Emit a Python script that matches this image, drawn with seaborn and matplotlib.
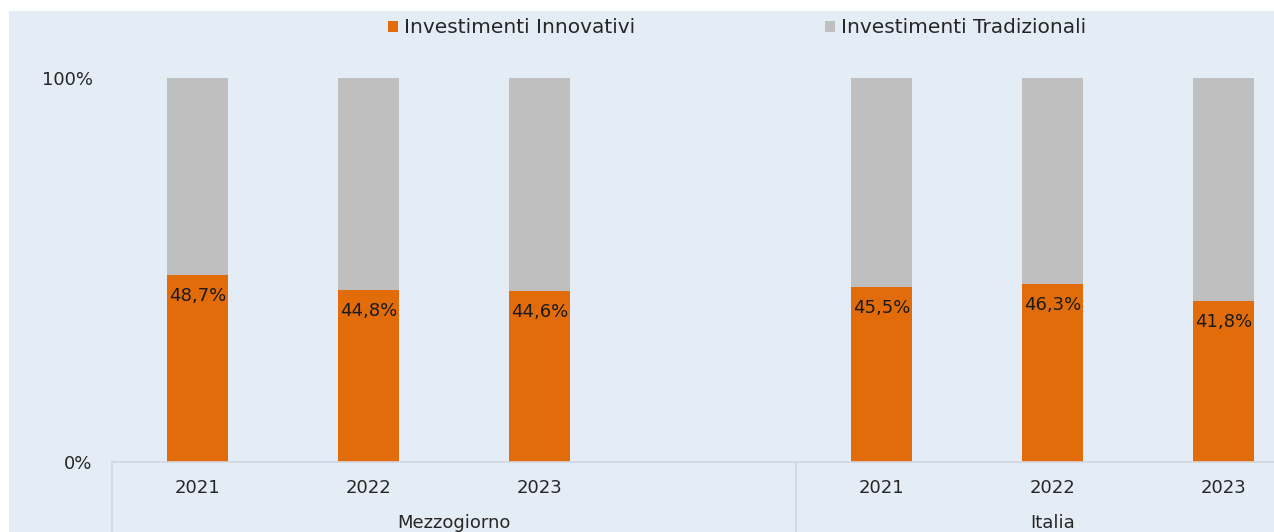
import matplotlib
matplotlib.use("Agg")
import matplotlib.pyplot as plt
import matplotlib.transforms as mtransforms
from matplotlib.patches import Rectangle, Patch
from matplotlib.lines import Line2D
import seaborn as sns
import pandas as pd

# ---- data ----
groups = ["Mezzogiorno", "Mezzogiorno", "Mezzogiorno", "Italia", "Italia", "Italia"]
years = ["2021", "2022", "2023", "2021", "2022", "2023"]
innovativi = [48.7, 44.8, 44.6, 45.5, 46.3, 41.8]
totale = [100, 100, 100, 100, 100, 100]
series_names = ["Investimenti Innovativi", "Investimenti Tradizionali"]
group_names = ["Mezzogiorno", "Italia"]
y_ticks = [0, 100]
y_tick_labels = ["0%", "100%"]

ORANGE = "#E36C0A"
GRAY = "#BFBFBF"
BG = "#E4ECF6"
TXT = "#262626"
LINE = "#D0D7E0"

keys = [f"{g}-{y}" for g, y in zip(groups, years)]
order = keys[:3] + ["gap"] + keys[3:]
df = pd.DataFrame({"key": keys, "tot": totale, "inn": innovativi})

sns.set_theme(style="white")
plt.rcParams["font.family"] = ["DejaVu Sans"]

W, H = 1274, 532
fig = plt.figure(figsize=(W / 100, H / 100), dpi=100)
fig.patch.set_facecolor("white")
fig.patches.append(Rectangle((9 / W, 0), 1 - 9 / W, (H - 11) / H,
                             transform=fig.transFigure, facecolor=BG,
                             edgecolor="none", zorder=-10))

x0, x1 = 112, 1309
y0, y100 = 462, 78
ax = fig.add_axes([x0 / W, (H - y0) / H, (x1 - x0) / W, (y0 - y100) / H])
ax.set_facecolor("none")
ax.set_zorder(5)

bw = 61 / 171
sns.barplot(data=df, x="key", y="tot", order=order, color=GRAY, width=bw,
            saturation=1, ax=ax, edgecolor="none", linewidth=0)
sns.barplot(data=df, x="key", y="inn", order=order, color=ORANGE, width=bw,
            saturation=1, ax=ax, edgecolor="none", linewidth=0)

ax.set_xlim(-0.5, 6.5)
ax.set_ylim(0, 100)
for s in ax.spines.values():
    s.set_visible(False)
ax.set_xlabel("")
ax.set_ylabel("")
ax.set_yticks(y_ticks)
ax.set_yticklabels(y_tick_labels, fontsize=13, color=TXT)
ax.tick_params(axis="y", length=0, pad=14)
ax.set_xticks([])

# value labels
positions = [0, 1, 2, 4, 5, 6]
for p, v in zip(positions, innovativi):
    ax.annotate(f"{v:.1f}%".replace(".", ","), xy=(p, v), xytext=(0, -21),
                textcoords="offset pixels",
                ha="center", va="center", fontsize=13, color="#1A1A1A")

# category axis (multi-level)
trans = mtransforms.blended_transform_factory(ax.transData, ax.transAxes)
px = 1 / (y0 - y100)
ax.add_line(Line2D([-0.5, 6.5], [0, 0], transform=trans, color=LINE,
                   lw=1.2, clip_on=False))
for xv in [-0.5, 3.5]:
    ax.add_line(Line2D([xv, xv], [0, -(H - y0) * px], transform=trans,
                       color=LINE, lw=1.2, clip_on=False))
for p, yr in zip(positions, years):
    ax.text(p, -26 * px, yr, transform=trans, ha="center", va="center",
            fontsize=13, color=TXT)
ax.text(1.5, -61 * px, group_names[0], transform=trans, ha="center",
        va="center", fontsize=13, color=TXT)
ax.text(5.0, -61 * px, group_names[1], transform=trans, ha="center",
        va="center", fontsize=13, color=TXT)

# legend
handles = [Patch(facecolor=ORANGE, edgecolor="none"),
           Patch(facecolor=GRAY, edgecolor="none")]
fig.legend(handles, series_names, loc="center left",
           bbox_to_anchor=(388 / W, 1 - 28 / H), ncol=2, frameon=False,
           fontsize=14.5, handlelength=0.5, handleheight=0.5,
           handletextpad=0.3, columnspacing=9.4, labelcolor=TXT,
           borderaxespad=0, borderpad=0)

fig.savefig("out.png", dpi=100, facecolor=fig.get_facecolor())
